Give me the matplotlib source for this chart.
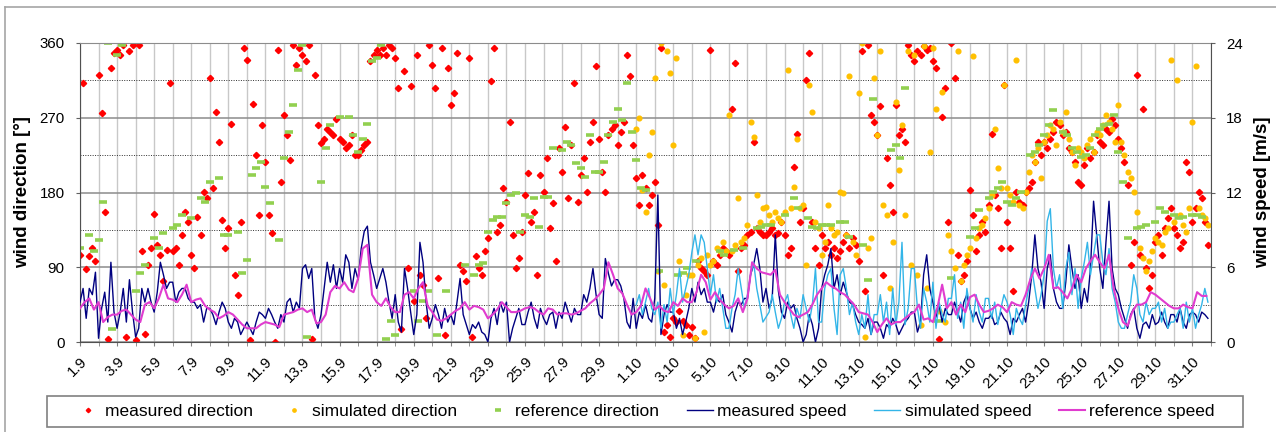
import numpy as np
import matplotlib
matplotlib.use("Agg")
import matplotlib.pyplot as plt
from matplotlib.lines import Line2D
from matplotlib.patches import Rectangle

plt.rcParams["font.family"] = ["Liberation Sans", "DejaVu Sans"]

nan = np.nan

# x axis: 1.9. .. 31.10., one category per day, labels every second day
day_labels = ["1.9", "3.9", "5.9", "7.9", "9.9", "11.9", "13.9", "15.9", "17.9",
              "19.9", "21.9", "23.9", "25.9", "27.9", "29.9", "1.10", "3.10",
              "5.10", "7.10", "9.10", "11.10", "13.10", "15.10", "17.10",
              "19.10", "21.10", "23.10", "25.10", "27.10", "29.10", "31.10"]
n_days = 61

# measured direction [deg], 6 values per day (every 4 h), 1.9 - 31.10
meas_dir = [
    [105, 312, 88, 103, 113, 97], [322, 276, 157, 4, 330, 348],
    [352, 346, 358, 6, 350, 358], [2, 358, 109, 10, 93, 113],
    [154, 117, 105, 73, 111, 312], [109, 113, 93, 129, 157, 145],
    [105, 89, 151, 129, 181, 173], [318, 185, 277, 241, 147, 113],
    [137, 263, 81, 57, 145, 354], [340, 2, 286, 225, 153, 261],
    [217, 153, 131, 0, 352, 193], [273, 249, 219, 358, 334, 354],
    [346, 338, 358, 4, 322, 261], [239, 245, 257, 253, 249, 269],
    [245, 241, 233, 237, 249, 225], [225, 231, 237, 241, 338, 346],
    [352, 346, 354, 346, 358, 354], [342, 306, 16, 326, 89, 308],
    [49, 346, 81, 69, 29, 358], [334, 306, 77, 354, 8, 330],
    [285, 300, 348, 93, 85, 73], [342, 6, 103, 89, 81, 109],
    [125, 314, 354, 133, 141, 185], [169, 265, 129, 89, 101, 133],
    [177, 203, 145, 157, 81, 201], [181, 221, 137, 167, 97, 233],
    [205, 259, 173, 237, 312, 169], [201, 221, 181, 241, 265, 332],
    [245, 205, 181, 249, 257, 261], [237, 253, 265, 346, 320, 237],
    [197, 165, 201, 185, 165, 177], [193, 141, 354, 12, 20, 6],
    [29, 24, 37, 25, 20, 8], [18, 5, 97, 89, 85, 81],
    [352, 97, 93, 105, 113, 109], [105, 281, 336, 85, 113, 117],
    [129, 133, 241, 137, 133, 129], [129, 133, 137, 129, 131, 145],
    [129, 105, 113, 211, 250, 145], [161, 316, 348, 145, 113, 93],
    [129, 113, 121, 105, 113, 101], [109, 121, 129, 113, 125, 117],
    [97, 350, 61, 358, 273, 265], [249, 284, 81, 221, 189, 157],
    [285, 249, 257, 241, 358, 346], [338, 350, 346, 356, 352, 354],
    [338, 330, 4, 271, 306, 145], [360, 318, 105, 73, 81, 97],
    [183, 153, 109, 129, 145, 133], [165, 251, 177, 161, 113, 310],
    [145, 113, 61, 181, 169, 165], [181, 185, 193, 217, 241, 225],
    [241, 233, 245, 253, 265, 261], [249, 253, 233, 229, 217, 193],
    [189, 213, 233, 221, 229, 249], [241, 237, 257, 253, 269, 261],
    [245, 233, 217, 189, 93, 121], [322, 105, 281, 89, 65, 81],
    [121, 129, 105, 137, 149, 161], [137, 129, 113, 121, 217, 205],
    [145, 161, 181, 173, 145, 117],
]

# simulated direction [deg], 6 per day, 1.10 - 31.10
sim_dir = [
    [257, 270, 183, 157, 225, 253], [318, 85, 360, 69, 350, 324],
    [237, 342, 97, 8, 57, 81], [81, 5, 93, 101, 12, 105],
    [93, 97, 113, 109, 121, 109], [273, 109, 117, 173, 121, 125],
    [141, 265, 247, 177, 145, 161], [163, 153, 145, 157, 149, 145],
    [157, 328, 161, 187, 245, 161], [165, 93, 310, 277, 145, 137],
    [105, 121, 165, 137, 129, 133], [181, 179, 129, 320, 121, 105],
    [300, 360, 6, 113, 125, 318], [249, 350, 165, 153, 65, 121],
    [289, 207, 261, 153, 350, 93], [346, 81, 20, 356, 65, 229],
    [354, 281, 37, 301, 24, 129], [109, 89, 350, 73, 93, 105],
    [113, 344, 125, 137, 141, 149], [161, 177, 257, 209, 185, 310],
    [185, 177, 169, 340, 165, 161], [181, 205, 225, 217, 233, 197],
    [241, 249, 261, 257, 237, 265], [253, 277, 245, 229, 213, 233],
    [229, 221, 237, 245, 229, 253], [249, 261, 273, 265, 257, 241],
    [285, 241, 225, 205, 197, 181], [157, 113, 101, 85, 97, 109],
    [125, 121, 117, 133, 137, 340], [145, 315, 153, 141, 133, 161],
    [265, 332, 161, 153, 149, 141],
]

# reference direction [deg], 4 per day (every 6 h), 1.9 - 31.10
ref_dir = [
    [113, nan, 129, 109], [123, 169, 360, 16], [346, 358, nan, nan], [61, 83, 93, nan],
    [125, 113, 131, nan], [137, 141, 153, nan], [149, nan, 173, 169], [193, nan, 197, 129],
    [129, nan, 133, 83], [99, 201, 209, 217], [187, 167, nan, 123], [221, 253, 285, 328],
    [358, 6, nan, nan], [193, 233, 261, nan], [271, nan, 271, 249], [229, 245, 263, 338],
    [342, 358, 4, 25], [8, nan, nan, nan], [61, 25, 49, 61], [nan, 8, nan, 61],
    [nan, nan, nan, 93], [nan, 81, 93, 95], [133, 147, 151, 151], [167, 177, 179, 133],
    [153, 151, 173, 139], [175, 175, 233, nan], [231, 241, 237, 215], [209, 199, 249, 205],
    [205, 217, 249, 265], [281, 267, 312, 253], [219, 185, 183, nan], [nan, 85, nan, nan],
    [nan, 81, 83, 89], [nan, 97, nan, nan], [nan, nan, 109, 105], [nan, 111, nan, 113],
    [nan, nan, 137, 139], [141, 141, nan, nan], [153, nan, 173, 161], [nan, 149, 139, 137],
    [141, 141, 141, nan], [145, 145, 127, nan], [nan, 117, 75, 293], [nan, nan, nan, 231],
    [237, 221, 306, nan], [nan, nan, nan, nan], [nan, 25, nan, nan], [77, nan, nan, nan],
    [127, 137, 159, nan], [173, 181, 185, 193], [169, 165, 173, 181], [nan, 225, 229, 237],
    [249, 261, 279, nan], [253, 249, 233, 229], [223, 225, 233, 249], [257, 261, 263, 273],
    [229, 193, 125, nan], [137, 139, 141, nan], [145, 161, 157, nan], [153, 149, 151, nan],
    [153, 153, 151, nan],
]

# measured speed [m/s], 6 per day, 1.9 - 31.10
meas_speed = [
    [3.2, 4.3, 1.9, 4.3, 3.8, 5.6], [0.3, 2.7, 4.0, 1.6, 6.4, 2.4],
    [1.1, 2.4, 4.3, 1.6, 5.0, 2.4], [0.4, 1.1, 4.3, 3.2, 4.3, 3.2],
    [2.4, 4.0, 6.4, 5.4, 4.3, 4.8], [4.8, 3.2, 4.0, 4.3, 4.3, 3.5],
    [3.2, 3.2, 2.7, 3.0, 1.6, 2.7], [2.7, 2.2, 1.4, 2.4, 3.2, 2.7],
    [1.6, 1.1, 1.9, 1.6, 0.6, 1.1], [1.6, 1.1, 0.6, 1.6, 2.4, 2.2],
    [1.9, 2.7, 2.2, 1.6, 1.1, 2.2], [1.6, 3.2, 3.5, 2.4, 3.2, 2.7],
    [5.9, 6.2, 5.1, 5.9, 1.9, 1.1], [2.2, 4.3, 6.4, 4.8, 6.2, 4.3],
    [5.9, 4.8, 7.0, 6.4, 4.3, 5.9], [5.0, 7.5, 8.9, 9.3, 6.4, 5.4],
    [4.3, 5.1, 5.9, 4.8, 3.2, 1.9], [3.8, 1.6, 0.8, 5.9, 4.3, 2.4],
    [0.6, 2.2, 8.0, 6.4, 3.2, 1.1], [1.9, 3.0, 2.2, 1.1, 2.7, 1.6],
    [2.2, 1.4, 3.2, 5.1, 2.2, 1.4], [0.6, 1.4, 1.1, 1.6, 0.8, 0.6],
    [0.0, 1.9, 2.7, 1.4, 3.2, 2.4], [3.2, 0.0, 1.1, 1.9, 2.7, 1.4],
    [1.4, 2.4, 3.2, 1.9, 1.1, 2.7], [1.9, 1.4, 2.2, 2.4, 1.1, 2.4],
    [1.9, 3.2, 2.4, 1.6, 2.7, 2.2], [2.2, 3.8, 3.2, 4.3, 5.9, 3.8],
    [2.2, 1.9, 6.7, 5.5, 4.5, 5.0], [5.0, 4.5, 3.5, 1.6, 1.1, 3.5],
    [1.1, 2.4, 1.9, 3.0, 1.9, 1.6], [3.5, 11.8, 0.6, 2.2, 3.0, 2.4],
    [2.4, 1.1, 1.9, 0.6, 1.6, 2.7], [4.3, 3.2, 4.8, 3.8, 4.3, 3.2],
    [3.2, 2.4, 3.5, 3.2, 3.8, 2.2], [1.6, 0.8, 2.4, 3.2, 3.0, 3.5],
    [3.5, 5.4, 6.2, 7.5, 5.9, 3.2], [4.3, 2.7, 3.5, 8.6, 4.1, 2.4],
    [1.9, 3.2, 2.7, 3.0, 1.9, 1.1], [0.0, 0.6, 2.2, 1.4, 0.0, 1.1],
    [4.3, 5.4, 6.2, 7.5, 4.3, 5.4], [3.8, 4.8, 4.0, 3.2, 3.0, 2.2],
    [1.6, 1.4, 1.1, 1.9, 0.6, 1.6], [1.6, 1.1, 0.3, 1.4, 1.1, 1.9],
    [1.4, 0.6, 1.1, 1.6, 1.9, 2.4], [2.4, 0.8, 1.6, 5.4, 7.0, 4.3],
    [3.2, 2.0, 3.0, 1.6, 2.7, 2.2], [2.2, 3.2, 2.4, 1.6, 3.2, 3.8],
    [2.7, 1.9, 2.4, 1.6, 1.1, 1.9], [1.9, 2.2, 1.4, 1.6, 2.4, 1.9],
    [1.6, 0.6, 1.9, 1.6, 2.2, 2.7], [1.6, 3.2, 5.4, 8.6, 5.9, 4.8],
    [2.7, 5.9, 7.0, 4.3, 3.2, 2.7], [2.7, 4.8, 7.8, 5.9, 4.3, 5.4],
    [2.7, 4.3, 3.2, 5.9, 11.3, 8.6], [5.9, 4.3, 8.0, 11.3, 5.9, 4.3],
    [3.8, 2.7, 1.9, 1.1, 2.2, 2.7], [1.1, 0.3, 1.4, 1.6, 1.1, 2.2],
    [1.4, 1.6, 2.4, 1.6, 1.1, 2.2], [2.2, 1.6, 2.7, 1.6, 1.1, 2.2],
    [2.4, 2.2, 1.6, 2.4, 2.2, 1.9],
]

# simulated speed [m/s], 6 per day, 1.10 - 31.10
sim_speed = [
    [3.0, 3.8, 2.2, 3.2, 4.3, 2.7], [2.2, 3.2, 1.1, 3.0, 1.6, 4.3],
    [2.2, 3.8, 5.9, 3.2, 4.3, 5.4], [7.2, 8.6, 7.0, 8.6, 8.0, 5.9],
    [3.8, 5.4, 3.2, 4.3, 2.7, 1.1], [1.1, 2.7, 3.8, 5.9, 4.3, 2.7],
    [3.8, 5.4, 6.4, 4.3, 3.0, 1.6], [2.0, 2.4, 3.8, 2.4, 1.1, 1.9],
    [3.2, 3.8, 2.2, 1.1, 2.7, 1.9], [3.8, 2.7, 1.6, 3.0, 5.9, 1.6],
    [1.6, 4.3, 5.4, 5.9, 2.7, 0.6], [5.4, 5.9, 4.3, 2.2, 3.2, 1.6],
    [0.6, 2.2, 1.1, 3.8, 0.6, 2.2], [2.2, 3.8, 1.6, 3.2, 0.6, 4.3],
    [1.4, 3.2, 8.0, 1.4, 2.7, 5.9], [5.9, 2.7, 1.1, 4.3, 3.2, 1.6],
    [4.8, 1.1, 3.2, 2.2, 1.6, 3.5], [3.5, 5.4, 1.9, 3.2, 1.1, 4.3],
    [2.7, 1.6, 3.8, 2.4, 1.6, 3.5], [3.5, 1.9, 3.2, 1.4, 2.7, 3.8],
    [3.2, 2.2, 0.6, 2.7, 1.9, 1.4], [3.0, 4.3, 5.9, 4.3, 2.7, 3.8],
    [5.4, 9.7, 10.7, 5.9, 4.3, 5.4], [2.7, 5.9, 7.2, 3.8, 5.9, 2.7],
    [5.1, 6.4, 8.0, 5.4, 7.0, 8.6], [8.6, 6.4, 5.4, 7.5, 4.3, 3.2],
    [1.6, 1.1, 1.1, 2.2, 3.2, 5.4], [4.3, 2.2, 1.6, 3.2, 2.2, 2.7],
    [2.7, 3.2, 1.6, 2.7, 1.1, 1.6], [1.6, 2.2, 2.7, 1.1, 3.2, 1.6],
    [2.7, 1.1, 2.2, 3.0, 4.3, 3.2],
]

# reference speed [m/s], 4 per day, 1.9 - 31.10
ref_speed = [
    [2.7, 3.2, 3.5, 2.6], [3.2, 1.6, 2.0, 2.2], [2.2, 2.5, 2.6, 2.2], [1.8, 1.6, 3.0, 3.2],
    [2.7, 3.5, 4.6, 3.5], [3.4, 3.2, 3.8, 4.6], [3.2, 3.4, 3.5, 2.9], [2.6, 2.4, 1.9, 2.1],
    [2.4, 2.2, 1.8, 1.4], [1.1, 1.1, 1.1, 1.4], [1.6, 1.5, 1.4, 1.2], [2.2, 2.3, 2.4, 2.6],
    [2.7, 2.4, 2.6, 1.5], [1.6, 2.2, 4.0, 4.5], [4.3, 4.8, 4.2, 4.0], [5.1, 7.5, 7.8, 3.8],
    [3.2, 2.9, 3.5, 2.8], [2.4, 2.4, 3.8, 4.0], [3.5, 4.3, 4.8, 2.9], [2.4, 1.8, 1.7, 1.9],
    [2.2, 2.5, 2.7, 3.2], [2.6, 2.9, 2.8, 2.6], [1.9, 2.2, 2.6, 3.2], [2.8, 2.4, 2.4, 2.5],
    [2.7, 2.8, 2.7, 2.4], [2.2, 2.7, 2.6, 2.2], [2.3, 2.3, 2.2, 2.3], [2.5, 2.7, 3.1, 3.4],
    [3.8, 4.3, 6.4, 5.4], [4.3, 3.9, 3.0, 2.2], [2.4, 2.9, 4.3, 3.5], [2.6, 2.9, 2.5, 2.4],
    [3.2, 2.9, 3.5, 3.2], [3.2, 4.0, 5.4, 4.8], [3.4, 4.0, 3.4, 3.0], [2.7, 2.9, 3.5, 2.4],
    [3.5, 6.4, 5.9, 5.6], [5.5, 5.4, 5.8, 3.8], [3.2, 2.7, 2.2, 2.0], [2.2, 2.4, 3.0, 3.8],
    [4.3, 4.8, 4.5, 4.3], [4.0, 3.8, 3.4, 3.0], [2.4, 2.3, 2.2, 1.6], [0.8, 1.4, 1.9, 1.4],
    [1.6, 1.6, 1.9, 2.2], [2.4, 3.0, 1.8, 1.9], [1.6, 2.8, 4.6, 2.7], [3.2, 2.2, 3.0, 2.4],
    [3.6, 3.8, 3.0, 2.4], [2.5, 2.7, 3.0, 2.8], [2.4, 3.2, 3.0, 2.9], [3.8, 5.0, 5.9, 5.1],
    [5.9, 7.0, 4.3, 4.4], [4.0, 3.5, 4.3, 5.4], [4.8, 5.9, 6.5, 7.0], [6.4, 5.9, 7.0, 4.3],
    [2.7, 1.6, 1.3, 2.4], [3.0, 3.0, 3.2, 4.0], [3.8, 3.5, 3.2, 2.9], [2.7, 2.7, 3.0, 2.8],
    [2.7, 4.0, 3.7, 3.7],
]


def series(rows, first_day):
    vals = np.array(rows, dtype=float)
    per_day = vals.shape[1]
    t = first_day + np.arange(vals.size) / per_day
    return t, vals.ravel()


W, H = 1276, 432
fig = plt.figure(figsize=(W / 100, H / 100), dpi=100)
ax = fig.add_axes([80 / W, 90 / H, 1131 / W, 299 / H])
ax2 = ax.twinx()

# direction points (primary axis)
t, v = series(meas_dir, 0)
ax.plot(t, v, ls="none", marker="D", ms=3.2, color="#ff0000", mec="#ff0000",
        label="measured direction")
t, v = series(sim_dir, 30)
ax.plot(t, v, ls="none", marker="o", ms=3.4, color="#ffc000", mec="#ffc000",
        label="simulated direction")
t, v = series(ref_dir, 0)
ax.plot(t, v, ls="none", marker="_", ms=6, mew=2.6, color="#92d050",
        label="reference direction")

# speed lines (secondary axis)
t, v = series(meas_speed, 0)
ax2.plot(t, v, color="#000080", lw=1.0, label="measured speed")
t, v = series(sim_speed, 30)
ax2.plot(t, v, color="#33b5e8", lw=1.0, label="simulated speed")
t, v = series(ref_speed, 0)
ax2.plot(t, v, color="#e03ccf", lw=1.5, label="reference speed")

ax.set_xlim(0, n_days)
ax.set_ylim(0, 360)
ax2.set_ylim(0, 24)

ax.set_xticks(np.arange(0, n_days, 2))
ax.set_xticklabels(day_labels, rotation=45, ha="right", va="top",
                   rotation_mode="anchor", fontsize=10.8)
ax.set_xticks(np.arange(0, n_days + 1), minor=True)
ax.set_yticks([0, 90, 180, 270, 360])
ax.set_yticks([45, 135, 225, 315], minor=True)
ax2.set_yticks([0, 6, 12, 18, 24])

ax.set_axisbelow(True)
ax.grid(axis="x", which="both", color="#c8c8c8", lw=1.0)
ax.grid(axis="y", which="major", color="#8c8c8c", lw=1.1)
ax.grid(axis="y", which="minor", color="#303030", lw=0.7, ls=(0, (1, 1.5)))

ax.tick_params(axis="x", which="both", length=3, color="#808080", pad=6)
ax.tick_params(axis="y", which="major", length=3, color="#606060", pad=8,
               labelsize=10.8)
ax.tick_params(axis="y", which="minor", length=0)
ax2.tick_params(axis="y", length=3, color="#606060", pad=8, labelsize=10.8)

for s in ("left", "bottom"):
    ax.spines[s].set_color("#505050")
ax.spines["top"].set_color("#8c8c8c")
ax.spines["right"].set_visible(False)
for s in ("left", "bottom", "top"):
    ax2.spines[s].set_visible(False)
ax2.spines["right"].set_color("#505050")

ax.set_ylabel("wind direction [°]", fontsize=13.5, fontweight="bold")
ax.yaxis.set_label_coords(-0.043, 0.5)
ax2.set_ylabel("wind speed [m/s]", fontsize=13.5, fontweight="bold",
               rotation=90)
ax2.yaxis.set_label_coords(1.038, 0.5)

# legend below the plot, with its own frame
h1, l1 = ax.get_legend_handles_labels()
h2, l2 = ax2.get_legend_handles_labels()
fig.legend(h1 + h2, l1 + l2, loc="center", bbox_to_anchor=(645 / W, 1 - 411.5 / H),
           ncol=6, frameon=False, fontsize=12.5, handlelength=1.5,
           handletextpad=0.25, columnspacing=1.6, markerscale=0.7)
fig.add_artist(Rectangle((47 / W, 1 - 427 / H), 1196 / W, 31 / H,
                         transform=fig.transFigure, fill=False,
                         ec="#808080", lw=1.2))

# outer frame of the figure
fig.add_artist(Line2D([5 / W, 5 / W], [0, 1 - 7 / H], transform=fig.transFigure,
                      color="#a6a6a6", lw=1.2))
fig.add_artist(Line2D([5 / W, 1], [1 - 7 / H, 1 - 7 / H], transform=fig.transFigure,
                      color="#a6a6a6", lw=1.2))

fig.savefig("out.png", dpi=100)
